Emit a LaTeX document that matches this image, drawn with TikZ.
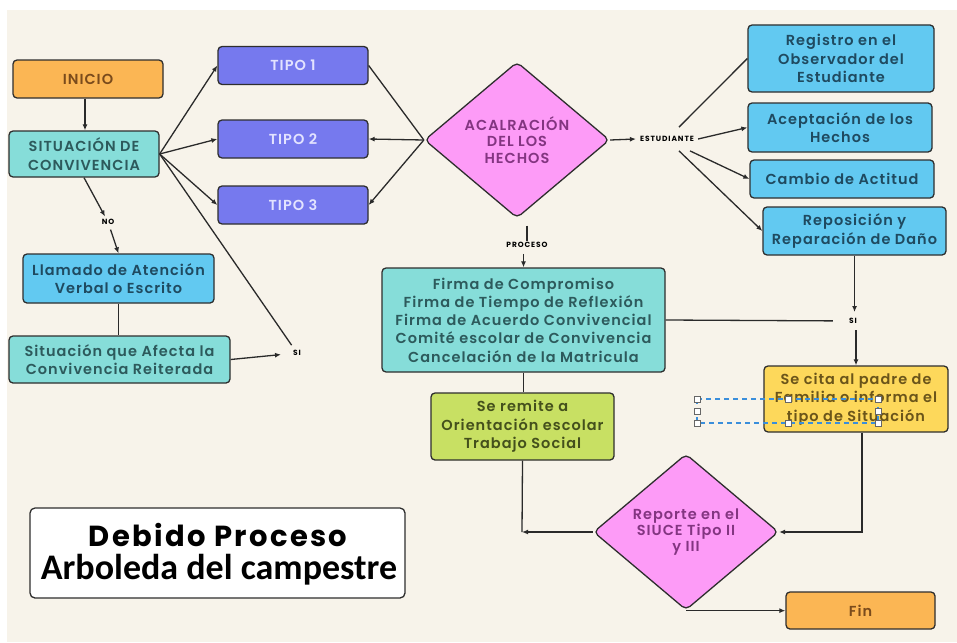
\documentclass[tikz,border=0pt]{standalone}
\usepackage{fontspec}
\usepackage{tikz}
\usetikzlibrary{shapes.geometric,arrows.meta}
\newfontfamily\boxfont{Poppins SemiBold}[LetterSpace=7]
\newfontfamily\tagfont{Poppins}[LetterSpace=12]
\newfontfamily\debfont{Poppins Bold}[LetterSpace=8]
\newfontfamily\arbfont{Carlito}
\definecolor{bgcream}{HTML}{F7F3EA}
\definecolor{boxline}{HTML}{2E2E2E}
\definecolor{linecol}{HTML}{2A2A2A}
\definecolor{orangefill}{HTML}{FBB654}
\definecolor{orangetext}{HTML}{7A4B1C}
\definecolor{tealfill}{HTML}{86DDD9}
\definecolor{tealtext}{HTML}{2D5A5C}
\definecolor{purplefill}{HTML}{7679EE}
\definecolor{purpletext}{HTML}{E3E3FF}
\definecolor{bluefill}{HTML}{62C9F1}
\definecolor{bluetext}{HTML}{1F4A60}
\definecolor{pinkfill}{HTML}{FD9BF7}
\definecolor{pinktext}{HTML}{833581}
\definecolor{greenfill}{HTML}{C8E063}
\definecolor{greentext}{HTML}{44501C}
\definecolor{yellowfill}{HTML}{FDD85B}
\definecolor{yellowtext}{HTML}{6B551A}
\definecolor{selblue}{HTML}{3A8EDB}

\begin{document}
\begin{tikzpicture}[x=1pt,y=-1pt,
  link/.style={draw=linecol,line width=1.3pt},
  arr/.style={link,-{Latex[length=6pt,width=5pt]}},
  box/.style={draw=boxline,line width=1.3pt,rounded corners=4pt,align=center,inner sep=0pt,
    font=\boxfont\fontsize{14.5}{18.3}\selectfont},
  startbox/.style={box,fill=orangefill,text=orangetext},
  tealbox/.style={box,fill=tealfill,text=tealtext},
  tipobox/.style={box,fill=purplefill,text=purpletext,minimum width=150pt,minimum height=38pt},
  bluebox/.style={box,fill=bluefill,text=bluetext},
  greenbox/.style={box,fill=greenfill,text=greentext},
  yellowbox/.style={box,fill=yellowfill,text=yellowtext},
  decision/.style={diamond,draw=boxline,line width=1.3pt,rounded corners=5pt,fill=pinkfill,text=pinktext,
    align=center,inner sep=0pt,minimum width=185pt,minimum height=156pt,
    font=\boxfont\fontsize{14.5}{16.3}\selectfont},
  tag/.style={font=\tagfont\bfseries\fontsize{7.5}{8}\selectfont,text=black,inner sep=0pt},
  titlebox/.style={draw=boxline,line width=1.3pt,rounded corners=5pt,fill=white,inner sep=0pt},
  selbox/.style={draw=selblue,line width=1.2pt,dash pattern=on 5pt off 4pt},
  handle/.style={draw=gray!80!black,fill=white,line width=0.8pt}
]
\useasboundingbox (0,0) rectangle (957,642);
\fill[white] (0,0) rectangle (957,642);
\fill[bgcream] (7,10) rectangle (957,642);

\node[startbox,minimum width=150pt,minimum height=38pt] (inicio) at (88,79) {INICIO};
\node[tealbox,minimum width=150pt,minimum height=46pt] (sitcon) at (84,154) {SITUACIÓN DE\\CONVIVENCIA};
\node[tipobox] (tipo1) at (293,65.5) {TIPO 1};
\node[tipobox] (tipo2) at (293,139) {TIPO 2};
\node[tipobox] (tipo3) at (293,205) {TIPO 3};
\node[tag] (no) at (108,222) {NO};
\node[bluebox,minimum width=191pt,minimum height=49pt] (llamado) at (118.5,278.5) {Llamado de Atención\\Verbal o Escrito};
\node[tealbox,minimum width=221pt,minimum height=47pt] (afecta) at (119.5,359.5) {Situación que Afecta la\\Convivencia Reiterada};
\node[tag] (sia) at (297,353) {SI};

\node[decision] (acla) at (517,140) {ACALRACIÓN\\DEL LOS\\HECHOS};
\node[tag,inner xsep=4pt,inner ysep=9pt] (estud) at (667,139) {ESTUDIANTE};
\node[bluebox,minimum width=186pt,minimum height=67pt] (registro) at (841,58.5) {Registro en el\\Observador del\\Estudiante};
\node[bluebox,minimum width=184pt,minimum height=49pt] (acepta) at (840,127.5) {Aceptación de los\\Hechos};
\node[bluebox,minimum width=184pt,minimum height=38pt] (cambio) at (842,179) {Cambio de Actitud};
\node[bluebox,minimum width=183pt,minimum height=48pt] (repos) at (854.5,231) {Reposición y\\Reparación de Daño};

\node[tag] (proceso) at (527,245) {PROCESO};
\node[tealbox,minimum width=283pt,minimum height=104pt] (firma) at (523.5,320) {Firma de Compromiso\\Firma de Tiempo de Reflexión\\Firma de Acuerdo Convivencial\\Comité escolar de Convivencia\\Cancelación de la Matricula};
\node[greenbox,minimum width=183pt,minimum height=67pt] (remite) at (522.5,426.5) {Se remite a\\Orientación escolar\\Trabajo Social};
\node[tag] (sib) at (853,321) {SI};
\node[yellowbox,minimum width=184pt,minimum height=66pt] (cita) at (856,399) {Se cita al padre de\\Familia o informa el\\tipo de Situación};
\node[decision] (reporte) at (686,532) {Reporte en el\\SIUCE Tipo II\\y III};
\node[startbox,minimum width=149pt,minimum height=37pt] (fin) at (860.5,610.5) {Fin};
\coordinate (junta) at (522,532);

\node[titlebox,minimum width=375pt,minimum height=90pt] (titulo) at (217.5,553) {};
\node[inner sep=0pt,font=\debfont\fontsize{29}{31}\selectfont] (debido) at (218,535) {Debido Proceso};
\node[inner sep=0pt,font=\arbfont\bfseries\fontsize{36}{38}\selectfont] (arboleda) at (219,570) {Arboleda del campestre};

\draw[arr] (inicio.south -| 85,0) -- (sitcon.north -| 85,0);
\draw[arr] (sitcon.east) -- (tipo1.west);
\draw[arr] (sitcon.east) -- (tipo2.west);
\draw[arr] (sitcon.east) -- (tipo3.west);
\draw[link,shorten >=6pt] (sitcon.east) -- (sia);
\draw[arr,shorten >=3pt] (sitcon.south) -- (no);
\draw[arr,shorten <=5pt] (no) -- (llamado.north);
\draw[link] (llamado.south) -- (afecta.north -| llamado.south);
\draw[arr,shorten >=12pt] (afecta.east) -- (sia);

\draw[link] (acla.west) -- (tipo1.east);
\draw[arr] (acla.west) -- (tipo2.east);
\draw[arr] (acla.west) -- (tipo3.east);
\draw[arr] (acla.east) -- (estud.west);
\draw[link] ([xshift=12pt]estud.north) -- (registro.west);
\draw[arr] (estud.east) -- (acepta.west);
\draw[arr] ([xshift=23pt]estud.south) -- (cambio.west);
\draw[arr] ([xshift=12pt]estud.south) -- (repos.west);

\draw[link,shorten <=7pt,shorten >=1pt] (proceso.north |- acla.south) -- (proceso.north);
\draw[arr,shorten <=6pt] (proceso.south -| firma.north) -- (firma.north);
\draw[link] (firma.south) -- (remite.north -| firma.south);
\draw[link,shorten >=16pt] (firma.east) -- (sib);
\draw[arr,shorten >=9pt] (repos.south) -- (repos.south |- sib);
\draw[arr,shorten <=9pt] (sib -| cita.north) -- (cita.north);
\draw[link] (remite.south) -- (junta);
\draw[arr] (reporte.west) -- (junta);
\draw[arr] ([xshift=6pt]cita.south) |- (reporte.east);
\draw[arr] (reporte.south) -- (reporte.south -| fin.west);

\draw[selbox] (697,399) rectangle (878,423);
\foreach \hx/\hy in {697/399,697/411,697/423,788/399,788/423,878/399,878/411,878/423}
  \draw[handle] (\hx-3,\hy-3) rectangle (\hx+3,\hy+3);
\end{tikzpicture}
\end{document}
